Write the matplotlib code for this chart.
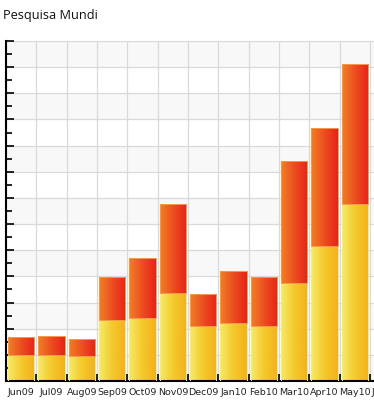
import numpy as np
import matplotlib
matplotlib.use("Agg")
import matplotlib.pyplot as plt
from matplotlib.colors import LinearSegmentedColormap

categories = ["Jun09", "Jul09", "Aug09", "Sep09", "Oct09", "Nov09", "Dec09",
              "Jan10", "Feb10", "Mar10", "Apr10", "May10", "Jun10"]
lower = [10.0, 10.0, 9.6, 23.3, 24.1, 33.7, 21.0, 22.2, 21.0, 37.5, 51.6, 67.7, 0]
total = [16.7, 17.2, 15.9, 39.9, 46.9, 67.6, 33.1, 41.9, 39.7, 84.0, 96.6, 121.1, 0]
upper = [t - l for t, l in zip(total, lower)]
title = "Pesquisa Mundi"

fig = plt.figure(figsize=(3.74, 4.0), dpi=100)
ax = fig.add_axes([6 / 374, 19 / 400, 394.3 / 374, 340 / 400])

x = np.arange(len(categories))
ax.set_xlim(-0.5, len(categories) - 0.5)
ax.set_ylim(0, 130)

# background bands
for k in range(0, 130, 20):
    ax.axhspan(k, k + 10, color="#f8f8f8", zorder=0, lw=0)
ax.set_yticks(np.arange(0, 131, 10))
ax.set_yticks(np.arange(5, 130, 10), minor=True)
ax.set_xticks(np.arange(-0.5, len(categories), 1))
ax.set_xticklabels([])
ax.set_xticks(x, minor=True)
ax.set_xticklabels(categories, minor=True, fontsize=6.8, family="DejaVu Sans",
                   color="#222222")
ax.set_yticklabels([])
ax.grid(True, which="major", color="#d9d9d9", lw=0.9, zorder=0.5)
ax.set_axisbelow(True)

ax.tick_params(axis="x", which="major", direction="in", length=5, width=1.2,
               color="black")
ax.tick_params(axis="x", which="minor", length=0, pad=5)
ax.tick_params(axis="y", which="major", direction="in", length=6, width=1.2,
               color="black")
ax.tick_params(axis="y", which="minor", direction="in", length=4, width=1.2,
               color="black")
for s in ["top", "right"]:
    ax.spines[s].set_visible(False)
for s in ["left", "bottom"]:
    ax.spines[s].set_linewidth(1.5)
    ax.spines[s].set_color("black")

yel = LinearSegmentedColormap.from_list("yel", ["#f5ea6a", "#f3c92c", "#f3b11c"])
red = LinearSegmentedColormap.from_list("red", ["#ef8025", "#ec4e1f", "#e82319"])
grad = np.linspace(0, 1, 64).reshape(1, -1)

def gradient_bars(bars, cmap, edge):
    for b in bars:
        h = b.get_height()
        if h <= 0:
            b.set_visible(False)
            continue
        x0, y0 = b.get_x(), b.get_y()
        w = b.get_width()
        im = ax.imshow(grad, cmap=cmap, aspect="auto",
                       extent=(x0, x0 + w, y0, y0 + h), zorder=2,
                       interpolation="bilinear")
        im.set_clip_path(b)
        b.set_facecolor("none")
        b.set_edgecolor(edge)
        b.set_linewidth(0.7)
        b.set_zorder(3)

b1 = ax.bar(x, lower, width=0.86, zorder=3)
b2 = ax.bar(x, upper, width=0.86, bottom=lower, zorder=3)
gradient_bars(b1, yel, "#f8ec80")
gradient_bars(b2, red, "#f39a50")
ax.set_xlim(-0.5, len(categories) - 0.5)
ax.set_ylim(0, 130)

fig.text(3 / 374, 1 - 15 / 400, title, fontsize=9.2, family="Open Sans",
         va="center", ha="left", color="#111111")

fig.savefig("out.png", dpi=100)
